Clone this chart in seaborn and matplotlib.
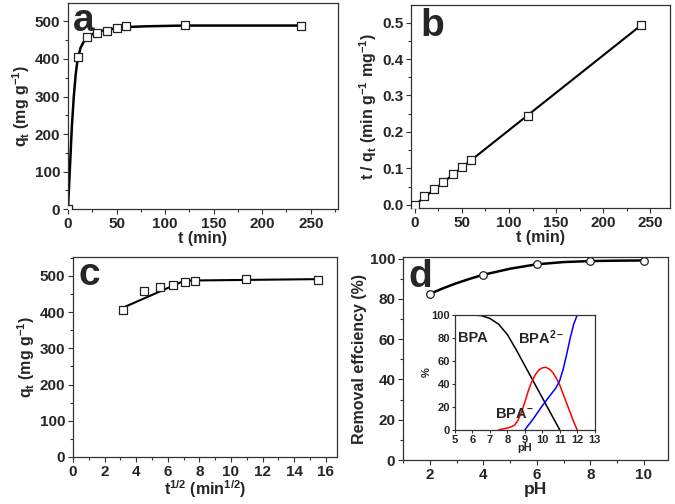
import numpy as np
import matplotlib
matplotlib.use('Agg')
import matplotlib.pyplot as plt
import seaborn as sns
from matplotlib.ticker import MultipleLocator

# panel a: kinetics
t_min = [0, 10, 20, 30, 40, 50, 60, 120, 240]
qt = [0, 405, 458, 468, 474, 483, 487, 490, 488]
qt_err = [0, 4, 4, 4, 4, 4, 4, 4, 4]
fit_a_t = [0, 2, 4, 6, 8, 10, 13, 16, 20, 25, 30, 40, 50, 60, 80, 120, 180, 240]
fit_a_q = [0, 110, 220, 300, 360, 400, 430, 445, 458, 466, 472, 478, 482, 485, 487, 489, 489, 489]

# panel b: pseudo second order
t_over_q = [0, 0.0247, 0.0437, 0.064, 0.084, 0.1035, 0.123, 0.245, 0.492]
fit_b_t = [0, 240]
fit_b_y = [0, 0.492]

# panel c: intraparticle diffusion
sqrt_t = [3.16, 4.47, 5.48, 6.32, 7.07, 7.75, 10.95, 15.49]
qt_c = [405, 458, 468, 474, 483, 487, 490, 488]
fit_c1_x = [3.16, 7.07]
fit_c1_y = [412, 487]
fit_c2_x = [7.07, 15.49]
fit_c2_y = [487, 491]

# panel d: pH effect
ph = [2, 4, 6, 8, 10]
removal = [82.5, 92, 97.5, 98.8, 99]
fit_d_ph = [2, 2.5, 3, 3.5, 4, 5, 6, 7, 8, 9, 10]
fit_d_re = [82.5, 85.3, 87.8, 90, 92, 95, 97.2, 98.3, 98.8, 99, 99.1]

# inset: speciation
bpa_ph = [5, 6, 6.5, 7, 7.5, 8, 8.5, 9, 9.5, 10, 10.5, 11]
bpa_pct = [100, 100, 99.5, 97, 92, 83, 70, 56, 42, 28, 14, 0]
bpa1_ph = [7.5, 7.8, 8.1, 8.4, 8.6, 8.8, 9.0, 9.2, 9.4, 9.6, 9.8, 10.0, 10.2, 10.4,
           10.6, 10.8, 11.0, 11.2, 11.4, 11.6, 11.8, 12.0]
bpa1_pct = [0, 1, 2, 4, 8, 15, 24, 34, 42, 48, 52, 54, 54.5, 53,
            50, 45, 39, 31, 23, 15, 7, 0]
bpa2_ph = [9, 9.5, 10, 10.5, 10.8, 11, 11.2, 11.4, 11.6, 11.8, 12]
bpa2_pct = [0, 10, 21, 31, 37, 43, 53, 66, 80, 92, 100]

sns.set_style("ticks")
plt.rcParams['font.family'] = ['Liberation Sans', 'DejaVu Sans']
plt.rcParams['font.weight'] = 'bold'
plt.rcParams['axes.labelweight'] = 'bold'
plt.rcParams['mathtext.default'] = 'regular'
plt.rcParams['axes.edgecolor'] = '#333333'
plt.rcParams['axes.linewidth'] = 0.9

fig = plt.figure(figsize=(6.75, 5.04), dpi=100)
ax_a = fig.add_axes([0.1007, 0.585, 0.400, 0.409])
ax_b = fig.add_axes([0.609, 0.587, 0.3836, 0.403])
ax_c = fig.add_axes([0.108, 0.0933, 0.391, 0.3967])
ax_d = fig.add_axes([0.597, 0.0873, 0.3926, 0.4027])
ax_in = fig.add_axes([0.674, 0.147, 0.207, 0.228])


def style(ax, fs=11):
    for s in ax.spines.values():
        s.set_visible(True)
    ax.tick_params(which='both', direction='out', labelsize=fs, width=0.8, color='#333333', pad=2)
    ax.tick_params(which='major', length=3.5)
    ax.tick_params(which='minor', length=2)
    for lab in ax.get_xticklabels() + ax.get_yticklabels():
        lab.set_fontweight('bold')


def points(ax, x, y, marker='s', err=None):
    if err is not None:
        ax.errorbar(x, y, yerr=err, fmt='none', ecolor='#222222', elinewidth=0.7, capsize=0, zorder=3)
    sns.scatterplot(x=x, y=y, ax=ax, marker=marker, s=30, facecolor='white',
                    edgecolor='#222222', linewidth=0.9, zorder=4)


# a
sns.lineplot(x=fit_a_t, y=fit_a_q, ax=ax_a, color='black', lw=1.8)
points(ax_a, t_min, qt, err=qt_err)
ax_a.set_xlim(0, 278)
ax_a.set_ylim(0, 549)
ax_a.xaxis.set_major_locator(MultipleLocator(50))
ax_a.xaxis.set_minor_locator(MultipleLocator(25))
ax_a.yaxis.set_major_locator(MultipleLocator(100))
ax_a.yaxis.set_minor_locator(MultipleLocator(50))
ax_a.set_xlabel('t (min)', fontsize=11.5, labelpad=0)
ax_a.set_ylabel('q$_{t}$ (mg g$^{-1}$)', fontsize=11.5, labelpad=2)
ax_a.text(0.018, 1.0, 'a', transform=ax_a.transAxes, fontsize=28, fontweight='bold', va='top')
style(ax_a)

# b
sns.lineplot(x=fit_b_t, y=fit_b_y, ax=ax_b, color='black', lw=1.5)
points(ax_b, t_min, t_over_q, err=[0.003] * len(t_min))
ax_b.set_xlim(-4, 271)
ax_b.set_ylim(-0.009, 0.548)
ax_b.xaxis.set_major_locator(MultipleLocator(50))
ax_b.xaxis.set_minor_locator(MultipleLocator(25))
ax_b.yaxis.set_major_locator(MultipleLocator(0.1))
ax_b.yaxis.set_minor_locator(MultipleLocator(0.05))
ax_b.set_xlabel('t (min)', fontsize=11.5, labelpad=0)
ax_b.set_ylabel('t / q$_{t}$ (min g$^{-1}$ mg$^{-1}$)', fontsize=11.5, labelpad=2)
ax_b.text(0.035, 0.985, 'b', transform=ax_b.transAxes, fontsize=28, fontweight='bold', va='top')
style(ax_b)

# c
sns.lineplot(x=fit_c1_x, y=fit_c1_y, ax=ax_c, color='black', lw=1.5)
sns.lineplot(x=fit_c2_x, y=fit_c2_y, ax=ax_c, color='black', lw=1.5)
points(ax_c, sqrt_t, qt_c, err=[4] * len(sqrt_t))
ax_c.set_xlim(0, 16.7)
ax_c.set_ylim(0, 552)
ax_c.xaxis.set_major_locator(MultipleLocator(2))
ax_c.xaxis.set_minor_locator(MultipleLocator(1))
ax_c.yaxis.set_major_locator(MultipleLocator(100))
ax_c.yaxis.set_minor_locator(MultipleLocator(50))
ax_c.set_xlabel('t$^{1/2}$ (min$^{1/2}$)', fontsize=11.5, labelpad=0)
ax_c.set_ylabel('q$_{t}$ (mg g$^{-1}$)', fontsize=11.5, labelpad=2)
ax_c.text(0.02, 1.0, 'c', transform=ax_c.transAxes, fontsize=28, fontweight='bold', va='top')
style(ax_c)

# d
sns.lineplot(x=fit_d_ph, y=fit_d_re, ax=ax_d, color='black', lw=1.8)
points(ax_d, ph, removal, marker='o', err=[0.8] * len(ph))
ax_d.set_xlim(1, 10.9)
ax_d.set_ylim(0, 100.8)
ax_d.xaxis.set_major_locator(MultipleLocator(2))
ax_d.xaxis.set_minor_locator(MultipleLocator(1))
ax_d.yaxis.set_major_locator(MultipleLocator(20))
ax_d.yaxis.set_minor_locator(MultipleLocator(10))
ax_d.set_xlabel('pH', fontsize=12.5, labelpad=0)
ax_d.set_ylabel('Removal effciency (%)', fontsize=11.5, labelpad=2)
ax_d.text(0.02, 0.99, 'd', transform=ax_d.transAxes, fontsize=28, fontweight='bold', va='top')
style(ax_d)

# inset
sns.lineplot(x=bpa_ph, y=bpa_pct, ax=ax_in, color='black', lw=1.1)
sns.lineplot(x=bpa1_ph, y=bpa1_pct, ax=ax_in, color='red', lw=1.1)
sns.lineplot(x=bpa2_ph, y=bpa2_pct, ax=ax_in, color='blue', lw=1.1)
ax_in.set_xlim(5, 13)
ax_in.set_ylim(0, 100)
ax_in.xaxis.set_major_locator(MultipleLocator(1))
ax_in.yaxis.set_major_locator(MultipleLocator(20))
ax_in.set_xlabel('pH', fontsize=8, labelpad=-1)
ax_in.set_ylabel('%', fontsize=8, labelpad=0)
ax_in.text(5.2, 80, 'BPA', fontsize=10.5, fontweight='bold', va='center')
ax_in.text(8.6, 80, 'BPA$^{2-}$', fontsize=10.5, fontweight='bold', va='center')
ax_in.text(7.3, 14, 'BPA$^{-}$', fontsize=10.5, fontweight='bold', va='center')
style(ax_in, fs=8)
ax_in.tick_params(which='major', length=2.5, pad=1)

fig.savefig('out.png', dpi=100)
